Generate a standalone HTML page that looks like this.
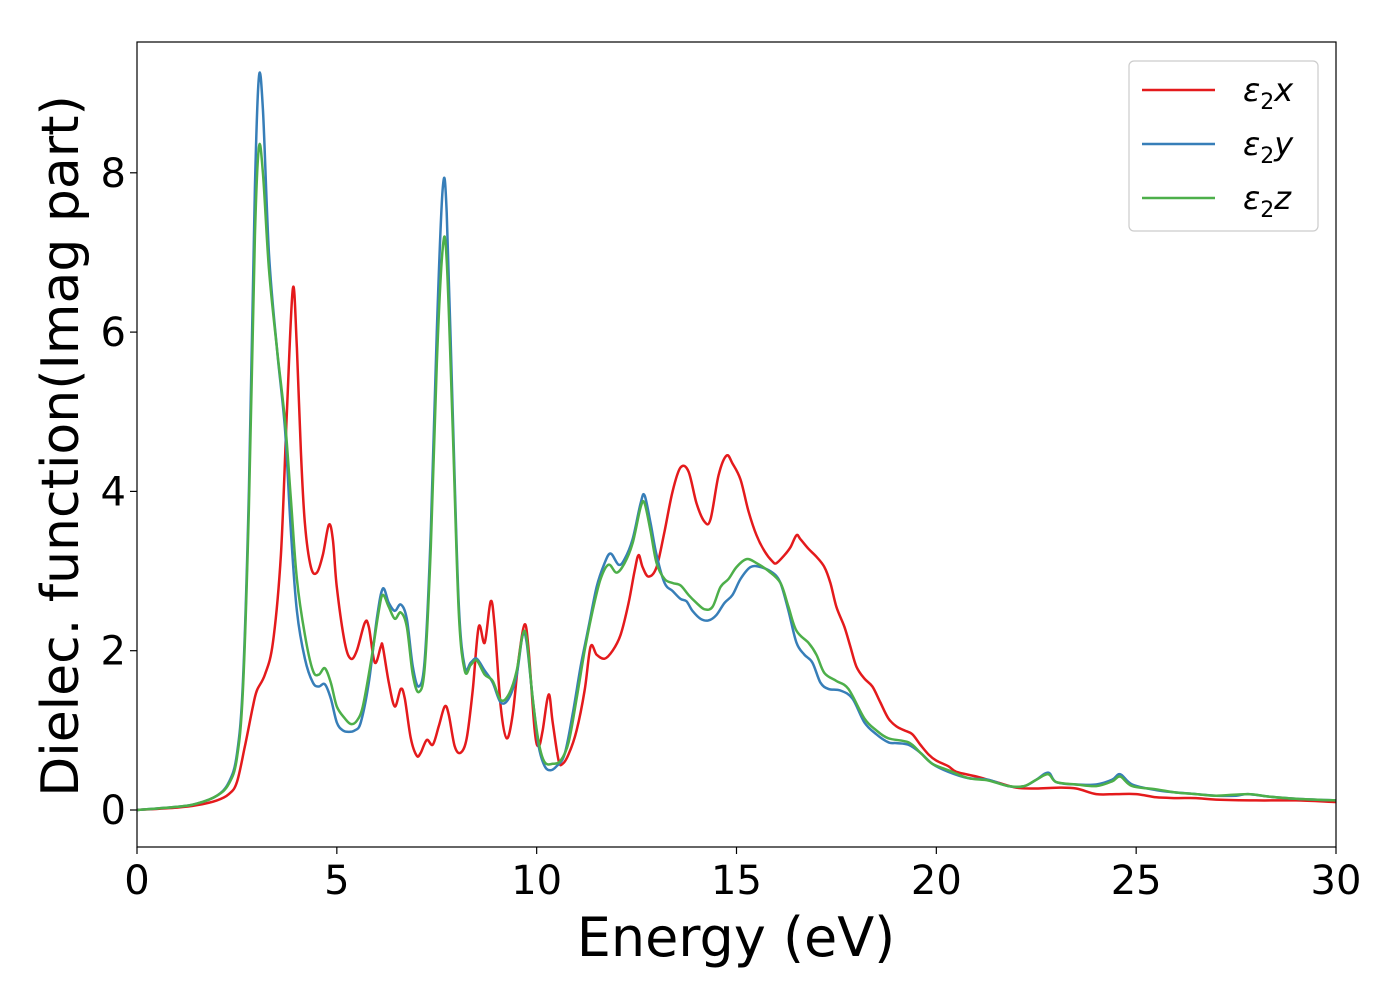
<!DOCTYPE html>
<html><head><meta charset="utf-8"><style>
body{margin:0;background:#fff;font-family:"DejaVu Sans","Liberation Sans",sans-serif}
</style></head><body>
<svg id="chart" width="1400" height="1000" xmlns="http://www.w3.org/2000/svg" font-family="DejaVu Sans, Liberation Sans, sans-serif"></svg>
<script>
const xTicks=[0,5,10,15,20,25,30];
const yTicks=[0,2,4,6,8];
const seriesNames=["x","y","z"];
const seriesColors=["#e41a1c","#377eb8","#4daf4a"];
const redE=[0,1,1.5,2,2.3,2.5,2.7,2.9,3.0,3.2,3.4,3.6,3.75,3.9,4.0,4.1,4.2,4.35,4.5,4.65,4.8,4.9,5.0,5.2,5.35,5.5,5.7,5.8,5.95,6.1,6.15,6.3,6.45,6.6,6.7,6.85,7.0,7.1,7.25,7.4,7.55,7.7,7.8,7.95,8.1,8.25,8.4,8.55,8.7,8.85,8.95,9.1,9.25,9.4,9.55,9.7,9.8,9.95,10.05,10.15,10.3,10.4,10.55,10.65,10.8,11.0,11.2,11.35,11.5,11.7,11.9,12.1,12.3,12.45,12.55,12.65,12.8,13.0,13.2,13.4,13.6,13.8,14.0,14.2,14.35,14.55,14.75,14.9,15.1,15.3,15.5,15.7,15.9,16.0,16.2,16.35,16.5,16.6,16.8,17.0,17.2,17.35,17.5,17.7,17.85,18.0,18.2,18.4,18.6,18.8,19.0,19.2,19.4,19.6,19.8,20.0,20.3,20.5,21,21.5,22,22.5,23,23.5,24,24.5,25,25.5,26,26.5,27,28,29,30];
const redV=[0,0.03,0.06,0.12,0.2,0.35,0.8,1.3,1.5,1.7,2.1,3.2,5.0,6.55,5.8,4.5,3.6,3.05,2.98,3.2,3.58,3.4,2.8,2.1,1.9,2.0,2.35,2.3,1.85,2.05,2.05,1.6,1.3,1.52,1.4,0.9,0.68,0.72,0.88,0.82,1.05,1.3,1.2,0.8,0.72,0.9,1.5,2.3,2.1,2.62,2.3,1.3,0.9,1.2,1.9,2.33,2.0,1.0,0.8,1.0,1.45,1.1,0.62,0.58,0.7,1.0,1.5,2.05,1.95,1.9,2.0,2.2,2.6,3.0,3.2,3.05,2.93,3.05,3.5,4.0,4.3,4.25,3.85,3.62,3.65,4.2,4.45,4.35,4.15,3.75,3.45,3.25,3.12,3.1,3.2,3.3,3.45,3.4,3.28,3.18,3.05,2.85,2.55,2.3,2.05,1.8,1.65,1.55,1.35,1.15,1.05,1.0,0.95,0.82,0.7,0.62,0.55,0.48,0.42,0.35,0.28,0.27,0.28,0.27,0.2,0.2,0.2,0.16,0.15,0.15,0.13,0.12,0.12,0.1];
const blueE=[0,1,1.5,2,2.3,2.5,2.65,2.8,2.95,3.05,3.15,3.3,3.5,3.7,3.85,4.0,4.2,4.4,4.55,4.7,4.85,5.0,5.15,5.3,5.45,5.6,5.8,6.0,6.15,6.3,6.45,6.6,6.75,6.9,7.05,7.2,7.35,7.5,7.65,7.75,7.9,8.05,8.2,8.35,8.5,8.7,8.9,9.1,9.3,9.5,9.65,9.75,9.9,10.05,10.2,10.35,10.5,10.7,10.9,11.1,11.3,11.5,11.7,11.85,12.05,12.2,12.4,12.6,12.7,12.85,13.0,13.2,13.4,13.6,13.75,13.9,14.1,14.3,14.5,14.7,14.9,15.1,15.35,15.6,15.9,16.1,16.3,16.5,16.7,16.9,17.1,17.3,17.6,17.9,18.2,18.5,18.8,19.0,19.3,19.6,19.9,20.3,20.8,21.3,21.8,22.2,22.5,22.8,23.0,23.5,24.0,24.4,24.6,24.9,25.5,26,26.5,27,27.5,27.8,28.3,29,30];
const blueV=[0,0.04,0.08,0.18,0.35,0.7,1.6,4.0,7.8,9.2,8.8,7.0,5.8,4.8,3.5,2.5,1.9,1.6,1.55,1.58,1.4,1.1,1.0,0.98,1.0,1.1,1.6,2.4,2.78,2.6,2.5,2.58,2.4,1.8,1.55,1.9,3.5,6.0,7.8,7.5,5.0,2.6,1.8,1.85,1.9,1.75,1.6,1.35,1.4,1.7,2.2,2.1,1.4,0.8,0.55,0.5,0.55,0.7,1.2,1.8,2.3,2.8,3.1,3.22,3.08,3.15,3.4,3.85,3.95,3.6,3.2,2.85,2.75,2.65,2.62,2.5,2.4,2.38,2.45,2.6,2.7,2.9,3.05,3.05,2.98,2.85,2.5,2.1,1.95,1.85,1.6,1.52,1.5,1.4,1.1,0.95,0.85,0.84,0.82,0.72,0.58,0.48,0.4,0.38,0.3,0.3,0.38,0.47,0.35,0.32,0.32,0.38,0.45,0.32,0.25,0.22,0.2,0.18,0.18,0.2,0.17,0.14,0.12];
const greenE=[0,1,1.5,2,2.3,2.5,2.65,2.8,2.95,3.05,3.15,3.3,3.5,3.7,3.85,4.0,4.2,4.4,4.55,4.7,4.85,5.0,5.2,5.35,5.5,5.65,5.85,6.05,6.15,6.3,6.45,6.6,6.75,6.9,7.05,7.2,7.35,7.5,7.65,7.75,7.9,8.05,8.2,8.35,8.5,8.7,8.9,9.1,9.3,9.5,9.65,9.75,9.9,10.05,10.2,10.4,10.6,10.8,11.0,11.2,11.4,11.6,11.8,12.0,12.2,12.4,12.6,12.7,12.85,13.0,13.2,13.4,13.6,13.8,14.0,14.2,14.4,14.6,14.8,15.0,15.25,15.5,15.8,16.1,16.3,16.5,16.8,17.0,17.2,17.5,17.8,18.2,18.5,18.8,19.3,19.6,19.9,20.3,20.8,21.3,21.8,22.2,22.5,22.8,23.0,23.5,24.0,24.4,24.6,24.9,25.5,26,26.5,27,27.8,28.3,29,30];
const greenV=[0,0.04,0.08,0.18,0.33,0.65,1.5,3.8,7.2,8.32,8.0,6.8,5.8,4.9,3.9,2.9,2.2,1.75,1.7,1.78,1.6,1.3,1.15,1.08,1.12,1.3,1.85,2.5,2.7,2.55,2.4,2.48,2.3,1.7,1.48,1.8,3.3,5.6,7.05,6.9,4.8,2.5,1.75,1.82,1.88,1.7,1.62,1.38,1.45,1.75,2.2,2.15,1.4,0.85,0.6,0.58,0.62,0.85,1.4,2.0,2.5,2.9,3.08,2.98,3.1,3.35,3.8,3.85,3.5,3.1,2.9,2.85,2.82,2.7,2.6,2.52,2.55,2.8,2.9,3.05,3.15,3.1,3.0,2.85,2.55,2.25,2.1,1.95,1.72,1.62,1.52,1.15,1.0,0.9,0.85,0.72,0.58,0.5,0.4,0.37,0.3,0.3,0.38,0.45,0.35,0.32,0.3,0.36,0.42,0.3,0.26,0.22,0.2,0.18,0.2,0.17,0.14,0.12];

const NS="http://www.w3.org/2000/svg";
const svg=document.getElementById('chart');
const L=137,R=1336,T=42,B=847;
const xs=v=>L+(v-0)/30*(R-L);
const ys=v=>810-v*79.65;
function mk(tag,attrs,parent){const e=document.createElementNS(NS,tag);for(const k in attrs)e.setAttribute(k,attrs[k]);(parent||svg).appendChild(e);return e;}
const clip=mk('clipPath',{id:'pc'});mk('rect',{x:L,y:T,width:R-L,height:B-T},clip);
const gS=mk('g',{'clip-path':'url(#pc)'});


const data=[[redE,redV],[blueE,blueV],[greenE,greenV]];
function smooth(pts){
  let p='M'+pts[0][0].toFixed(1)+','+pts[0][1].toFixed(1);
  for(let i=0;i<pts.length-1;i++){
    const p0=pts[Math.max(0,i-1)],p1=pts[i],p2=pts[i+1],p3=pts[Math.min(pts.length-1,i+2)];
    const c1x=p1[0]+(p2[0]-p0[0])/6,c1y=p1[1]+(p2[1]-p0[1])/6;
    const c2x=p2[0]-(p3[0]-p1[0])/6,c2y=p2[1]-(p3[1]-p1[1])/6;
    p+='C'+c1x.toFixed(1)+','+c1y.toFixed(1)+' '+c2x.toFixed(1)+','+c2y.toFixed(1)+' '+p2[0].toFixed(1)+','+p2[1].toFixed(1);
  }
  return p;
}
data.forEach((d,i)=>{
  const pts=d[0].map((e,j)=>[xs(e),ys(d[1][j])]);
  const path=mk('path',{d:smooth(pts),fill:'none',stroke:seriesColors[i],'stroke-width':2.5,'stroke-linejoin':'round'},gS);
  
  
});
const frame=mk('rect',{x:L,y:T,width:R-L,height:B-T,fill:'none',stroke:'#000','stroke-width':1.2});


xTicks.forEach(t=>{
  const x=xs(t);
  const tk=mk('line',{x1:x,x2:x,y1:B,y2:B+7,stroke:'#000','stroke-width':1.2});
  
  
  const tx=mk('text',{x:x,y:894,'font-size':40,'text-anchor':'middle'});tx.textContent=t;
  
  
});
yTicks.forEach(t=>{
  const y=ys(t);
  const tk=mk('line',{x1:L-7,x2:L,y1:y,y2:y,stroke:'#000','stroke-width':1.2});
  
  
  const tx=mk('text',{x:126,y:y+14,'font-size':40,'text-anchor':'end'});tx.textContent=t;
  
  
});
const xl=mk('text',{x:736,y:956,'font-size':54,'text-anchor':'middle'});xl.textContent='Energy (eV)';


const yl=mk('text',{x:0,y:0,'font-size':52,'text-anchor':'middle',transform:'translate(78,446) rotate(-90)'});yl.textContent='Dielec. function(Imag part)';


const lg=mk('g',{});


mk('rect',{x:1129,y:61,width:189,height:170,rx:5,fill:'#fff',stroke:'#ccc','stroke-width':1.2},lg);
seriesNames.forEach((n,i)=>{
  const y=90+i*54;
  const ln=mk('line',{x1:1142,x2:1215,y1:y,y2:y,stroke:seriesColors[i],'stroke-width':2.5},lg);
  
  
  const tx=mk('text',{x:1243,y:y+11,'font-size':32,'font-style':'italic'},lg);
  
  
  tx.appendChild(document.createTextNode('ε'));
  const s=mk('tspan',{'font-size':22,'font-style':'normal',dy:8},tx);s.textContent='2';
  const s2=mk('tspan',{dy:-8},tx);s2.textContent=n;
});
</script>
</body></html>
